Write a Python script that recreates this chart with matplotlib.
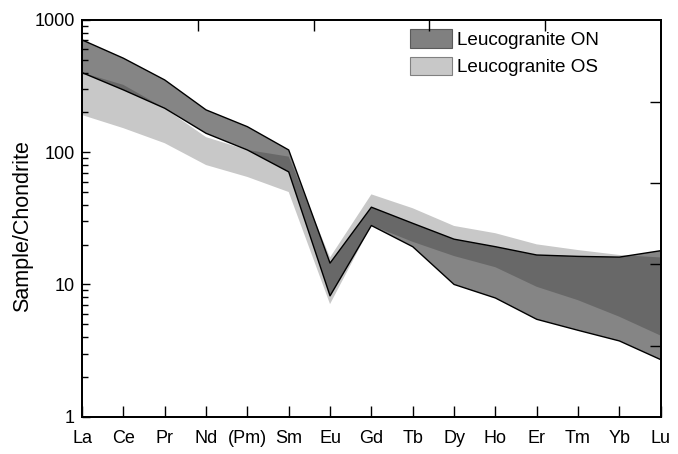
import matplotlib
matplotlib.use("Agg")
import matplotlib.pyplot as plt
from matplotlib.patches import Patch
from matplotlib.ticker import NullFormatter, LogLocator
import numpy as np

plt.rcParams['font.family'] = ['Liberation Sans', 'DejaVu Sans']

elements = ["La", "Ce", "Pr", "Nd", "(Pm)", "Sm", "Eu", "Gd", "Tb", "Dy",
            "Ho", "Er", "Tm", "Yb", "Lu"]

# chondrite-normalised envelopes
on_upper = [707, 514, 352, 209, 156, 104, 14.5, 38.4, 29.0, 22.0, 19.3, 16.7, 16.3, 16.1, 18.0]
on_lower = [400, 296, 215, 139, 104, 71, 8.2, 27.9, 19.3, 10.0, 7.9, 5.45, 4.5, 3.74, 2.7]
os_upper = [400, 323, 215, 130, 104, 92.6, 16.0, 48.0, 37.7, 27.7, 24.4, 20.1, 18.2, 16.7, 16.0]
os_lower = [191, 152, 117, 80, 65, 50, 7.1, 28.0, 21.0, 16.4, 13.5, 9.6, 7.6, 5.7, 4.1]

on_label = "Leucogranite ON"
os_label = "Leucogranite OS"

fig = plt.figure(figsize=(6.78, 4.54), dpi=100)
ax = fig.add_axes([0.121, 0.0822, 0.8535, 0.8738])

x = np.arange(len(elements))
ax.fill_between(x, os_lower, os_upper, facecolor="#c8c8c8", edgecolor="none", zorder=1)
ax.fill_between(x, on_lower, on_upper, facecolor="black", alpha=0.48, edgecolor="none", zorder=2)
ax.plot(x, on_upper, color="black", lw=1.0, zorder=3)
ax.plot(x, on_lower, color="black", lw=1.0, zorder=3)

ax.set_yscale("log")
ax.set_ylim(1, 1000)
ax.set_xlim(0, len(elements) - 1)
ax.set_xticks(x)
ax.set_xticklabels(elements, fontsize=13)
ax.set_yticks([1, 10, 100, 1000])
ax.set_yticklabels(["1", "10", "100", "1000"], fontsize=13)
ax.yaxis.set_minor_locator(LogLocator(base=10, subs=np.arange(2, 10)))
ax.yaxis.set_minor_formatter(NullFormatter())
ax.set_ylabel("Sample/Chondrite", fontsize=15.5, va="center")
ax.yaxis.set_label_coords(-0.102, 0.48)

ax.tick_params(axis="x", which="major", direction="in", length=8, width=1.0, pad=9.5)
ax.tick_params(axis="y", which="major", direction="in", length=6, width=1.0, pad=5)
ax.tick_params(axis="y", which="minor", direction="in", length=4, width=1.0)
for s in ax.spines.values():
    s.set_linewidth(1.2)

# top and right frame ticks
axt = ax.twiny()
axt.set_xlim(0, 1)
axt.set_xticks([0.2, 0.4, 0.6, 0.8])
axt.xaxis.set_major_formatter(NullFormatter())
axt.tick_params(axis="x", direction="in", length=8, width=1.0)
axr = ax.twinx()
axr.set_ylim(0, 1)
axr.set_yticks([0.178, 0.385, 0.59, 0.794])
axr.yaxis.set_major_formatter(NullFormatter())
axr.tick_params(axis="y", direction="in", length=8, width=1.0)
for a in (axt, axr):
    for s in a.spines.values():
        s.set_linewidth(1.2)

handles = [Patch(facecolor="#808080", edgecolor="#5a5a5a", lw=0.8),
           Patch(facecolor="#c8c8c8", edgecolor="#808080", lw=0.8)]
ax.legend(handles, [on_label, os_label], loc="upper left",
          bbox_to_anchor=(0.567, 0.9766), frameon=False, fontsize=13.6,
          borderpad=0, borderaxespad=0, handlelength=2.2, handleheight=1.12,
          handletextpad=0.3, labelspacing=0.42)

fig.savefig("out.png", dpi=100)
